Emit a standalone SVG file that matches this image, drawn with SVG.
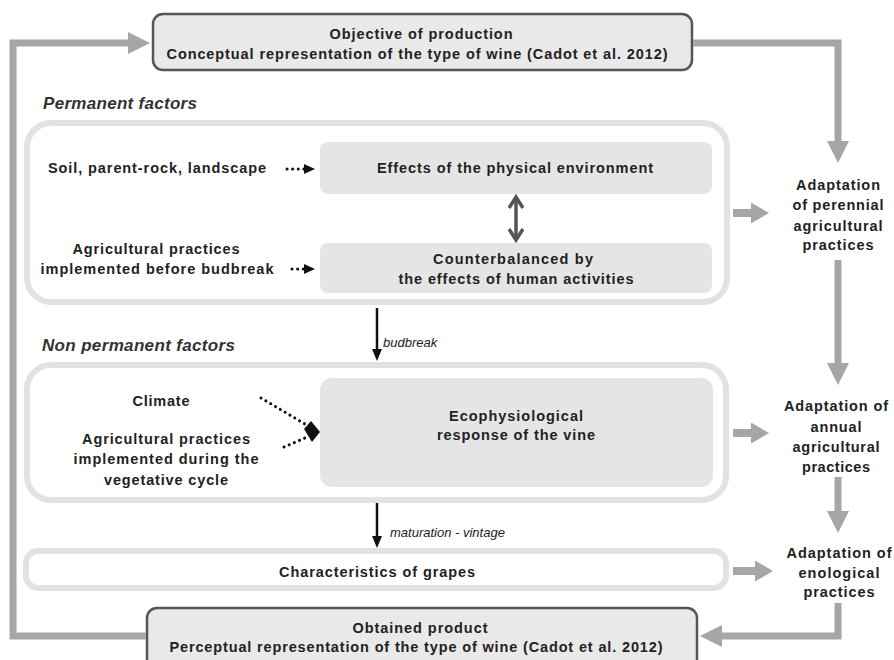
<svg xmlns="http://www.w3.org/2000/svg" width="894" height="660" viewBox="0 0 894 660">
<style>
.t{font-family:"Liberation Sans",Arial,sans-serif;font-weight:bold;font-size:14.5px;fill:#222;text-anchor:middle}
.h{font-family:"Liberation Sans",Arial,sans-serif;font-weight:bold;font-style:italic;font-size:17px;fill:#333}
.l{font-family:"Liberation Sans",Arial,sans-serif;font-style:italic;font-size:13px;fill:#222}
.main{fill:#e9e9e9;stroke:#555;stroke-width:2.5}
.outer{fill:#fff;stroke:#e2e2e2;stroke-width:6}
.inner{fill:#e5e5e5;stroke:none}
.g{fill:none;stroke:#a6a6a6;stroke-width:7}
.gs{fill:none;stroke:#a6a6a6;stroke-width:8}
.b{fill:none;stroke:#111;stroke-width:2.5}
.d{fill:none;stroke:#111;stroke-width:3;stroke-dasharray:0.1 5.5;stroke-linecap:round}
</style>
<defs>
<marker id="gh" markerUnits="userSpaceOnUse" markerWidth="22" markerHeight="22" refX="12" refY="11" orient="auto"><path d="M0,0 L22,11 L0,22 z" fill="#a6a6a6"/></marker>
<marker id="gsm" markerUnits="userSpaceOnUse" markerWidth="18" markerHeight="21" refX="8" refY="10.5" orient="auto"><path d="M0,0 L18,10.5 L0,21 z" fill="#a6a6a6"/></marker>
<marker id="bk" markerUnits="userSpaceOnUse" markerWidth="12" markerHeight="10" refX="5" refY="5" orient="auto"><path d="M0,0 L12,5 L0,10 z" fill="#111"/></marker>
<marker id="dk" markerUnits="userSpaceOnUse" markerWidth="11" markerHeight="10" refX="2" refY="5" orient="auto"><path d="M0,0 L11,5 L0,10 z" fill="#111"/></marker>
<marker id="dg" markerUnits="userSpaceOnUse" markerWidth="18" markerHeight="16" refX="9" refY="8" orient="auto-start-reverse"><path d="M1,1 L12,8 L1,15" fill="none" stroke="#555" stroke-width="3.5"/></marker>
</defs>

<g id="objective">
<rect class="main" x="153" y="14" width="539" height="56" rx="10"/>
<text class="t" x="421" y="39" textLength="183" lengthAdjust="spacing">Objective of production</text>
<text class="t" x="417" y="59" textLength="501" lengthAdjust="spacing">Conceptual representation of the type of wine (Cadot et al. 2012)</text>
</g>

<text class="h" x="43" y="109" textLength="154" lengthAdjust="spacing">Permanent factors</text>

<g id="permanent">
<rect class="outer" x="27" y="123" width="700" height="179" rx="24"/>
</g>
<g id="soil">
<text class="t" x="157" y="173" textLength="218" lengthAdjust="spacing">Soil, parent-rock, landscape</text>
</g>
<g id="practices-before">
<text class="t" x="156" y="254" textLength="167" lengthAdjust="spacing">Agricultural practices</text>
<text class="t" x="157" y="274" textLength="233" lengthAdjust="spacing">implemented before budbreak</text>
</g>
<g id="effects">
<rect class="inner" x="320" y="142" width="392" height="52" rx="8"/>
<text class="t" x="515" y="173" textLength="276" lengthAdjust="spacing">Effects of the physical environment</text>
</g>
<g id="counterbalanced">
<rect class="inner" x="320" y="243" width="392" height="50" rx="8"/>
<text class="t" x="513" y="264" textLength="160" lengthAdjust="spacing">Counterbalanced by</text>
<text class="t" x="516" y="284" textLength="235" lengthAdjust="spacing">the effects of human activities</text>
</g>

<g id="adapt-perennial">
<text class="t" x="838" y="190" textLength="84" lengthAdjust="spacing">Adaptation</text>
<text class="t" x="838" y="210" textLength="91" lengthAdjust="spacing">of perennial</text>
<text class="t" x="838" y="231" textLength="89" lengthAdjust="spacing">agricultural</text>
<text class="t" x="838" y="250" textLength="71" lengthAdjust="spacing">practices</text>
</g>

<text class="l" x="383" y="347">budbreak</text>
<text class="h" x="42" y="351" textLength="193" lengthAdjust="spacing">Non permanent factors</text>

<g id="non-permanent">
<rect class="outer" x="27" y="365" width="699" height="135" rx="24"/>
</g>
<g id="climate">
<text class="t" x="161" y="406" textLength="57" lengthAdjust="spacing">Climate</text>
</g>
<g id="practices-during">
<text class="t" x="166" y="444" textLength="168" lengthAdjust="spacing">Agricultural practices</text>
<text class="t" x="166" y="464" textLength="185" lengthAdjust="spacing">implemented during the</text>
<text class="t" x="166" y="485" textLength="124" lengthAdjust="spacing">vegetative cycle</text>
</g>
<g id="ecophysiological">
<rect class="inner" x="320" y="378" width="393" height="109" rx="12"/>
<text class="t" x="516" y="421" textLength="134" lengthAdjust="spacing">Ecophysiological</text>
<text class="t" x="516" y="440" textLength="158" lengthAdjust="spacing">response of the vine</text>
</g>

<g id="adapt-annual">
<text class="t" x="836" y="411" textLength="104" lengthAdjust="spacing">Adaptation of</text>
<text class="t" x="836" y="432" textLength="51" lengthAdjust="spacing">annual</text>
<text class="t" x="836" y="452" textLength="87" lengthAdjust="spacing">agricultural</text>
<text class="t" x="836" y="472" textLength="68" lengthAdjust="spacing">practices</text>
</g>

<text class="l" x="390" y="537">maturation - vintage</text>

<g id="grapes">
<rect class="outer" x="26" y="551" width="700" height="37" rx="12"/>
<text class="t" x="377" y="577" textLength="196" lengthAdjust="spacing">Characteristics of grapes</text>
</g>

<g id="adapt-enological">
<text class="t" x="839" y="558" textLength="105" lengthAdjust="spacing">Adaptation of</text>
<text class="t" x="839" y="578" textLength="81" lengthAdjust="spacing">enological</text>
<text class="t" x="839" y="597" textLength="71" lengthAdjust="spacing">practices</text>
</g>

<g id="obtained">
<rect class="main" x="147" y="608" width="550" height="70" rx="10"/>
<text class="t" x="420" y="633" textLength="135" lengthAdjust="spacing">Obtained product</text>
<text class="t" x="416" y="652" textLength="493" lengthAdjust="spacing">Perceptual representation of the type of wine (Cadot et al. 2012)</text>
</g>

<g id="connectors">
<path class="g" d="M146,636 H13 V43 H140" marker-end="url(#gh)"/>
<path class="g" d="M693,43 H838 V153" marker-end="url(#gh)"/>
<path class="g" d="M838,260 V375" marker-end="url(#gh)"/>
<path class="g" d="M838,477 V523" marker-end="url(#gh)"/>
<path class="g" d="M838,603 V636 H710" marker-end="url(#gh)"/>
<path class="gs" d="M733,213 H759" marker-end="url(#gsm)"/>
<path class="gs" d="M733,433 H759" marker-end="url(#gsm)"/>
<path class="gs" d="M733,571 H763" marker-end="url(#gsm)"/>
<path class="b" d="M377,308 V354" marker-end="url(#bk)"/>
<path class="b" d="M377,503 V541" marker-end="url(#bk)"/>
<path d="M516,200 V237" fill="none" stroke="#555" stroke-width="3.5" marker-start="url(#dg)" marker-end="url(#dg)"/>
<path class="d" d="M287,169 H306" marker-end="url(#dk)"/>
<path class="d" d="M292,269 H306" marker-end="url(#dk)"/>
<path class="d" d="M261,398 L305,424"/>
<path class="d" d="M284,447 L305,438"/>
<polygon points="304,429 311,421 320,432 312,442" fill="#111"/>
</g>
</svg>
